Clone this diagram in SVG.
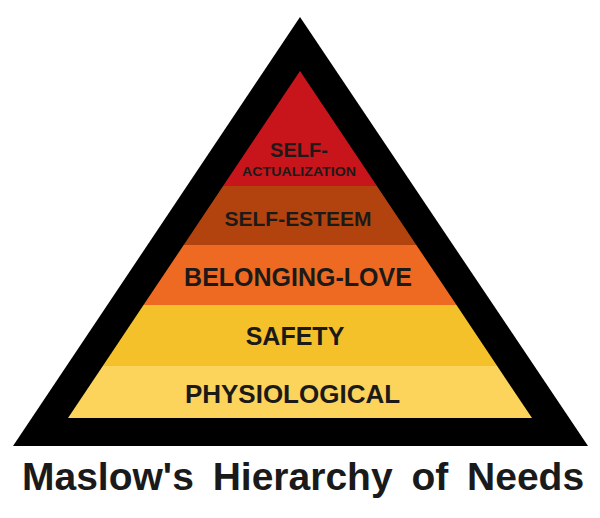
<svg xmlns="http://www.w3.org/2000/svg" width="600" height="518" viewBox="0 0 600 518">
<style>
.lbl{font-family:"Liberation Sans",Arial,sans-serif;font-weight:bold;fill:#1c1a18;text-anchor:middle}
.title{font-family:"Liberation Sans",Arial,sans-serif;font-weight:bold;fill:#1a1a1a}
</style>
<rect width="600" height="518" fill="#ffffff"/>
<g id="frame">
<polygon points="300,17 588,446 13,446" fill="#000000"/>
</g>
<g id="self-actualization">
<polygon points="300,71 376.9,186 223.1,186" fill="#c8151c"/>
<text class="lbl" x="299" y="157" font-size="20">SELF-</text>
<text class="lbl" x="299" y="176" font-size="12" textLength="114" lengthAdjust="spacingAndGlyphs">ACTUALIZATION</text>
</g>
<g id="self-esteem">
<polygon points="223.1,186 376.9,186 416.3,245 183.7,245" fill="#b2430f"/>
<text class="lbl" x="298" y="226" font-size="21">SELF-ESTEEM</text>
</g>
<g id="belonging-love">
<polygon points="183.7,245 416.3,245 456.5,305 143.5,305" fill="#ee6a22"/>
<text class="lbl" x="298" y="286" font-size="25">BELONGING-LOVE</text>
</g>
<g id="safety">
<polygon points="143.5,305 456.5,305 497.2,366 102.8,366" fill="#f5c12a"/>
<text class="lbl" x="295" y="345" font-size="25">SAFETY</text>
</g>
<g id="physiological">
<polygon points="102.8,366 497.2,366 532,418 68,418" fill="#fcd45c"/>
<text class="lbl" x="292.5" y="403" font-size="26">PHYSIOLOGICAL</text>
</g>
<g id="connectors"></g>
<text class="title" x="22" y="490" font-size="39" word-spacing="8">Maslow's Hierarchy of Needs</text>
</svg>
